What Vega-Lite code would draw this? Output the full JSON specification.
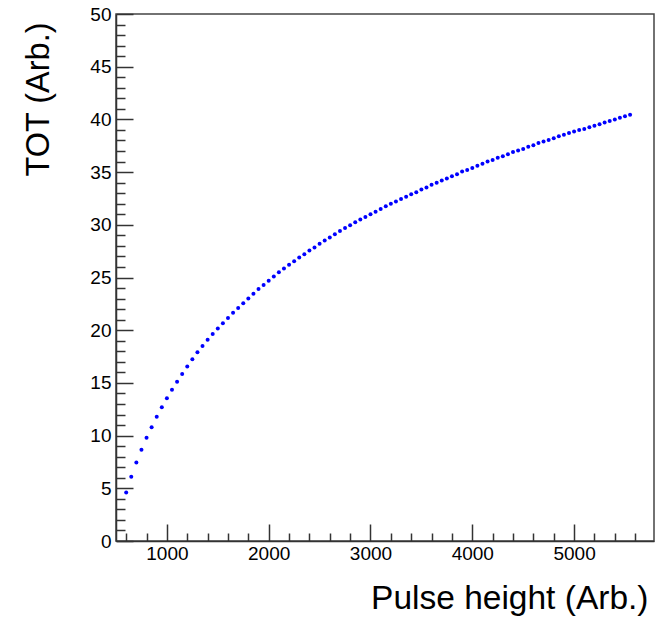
{
  "$schema": "https://vega.github.io/schema/vega-lite/v6.json",
  "width": 538,
  "height": 527,
  "autosize": {"type": "none"},
  "padding": {"left": 116, "top": 14, "right": 1, "bottom": 78},
  "background": "white",
  "config": {
    "view": {"stroke": "#444", "strokeWidth": 1.5},
    "font": "Liberation Sans"
  },
  "data": {
    "values": [
      {"ph": 600, "tot": 4.6}, {"ph": 650, "tot": 6.1}, {"ph": 700, "tot": 7.45}, {"ph": 750, "tot": 8.65},
      {"ph": 800, "tot": 9.8}, {"ph": 850, "tot": 10.8}, {"ph": 900, "tot": 11.8}, {"ph": 950, "tot": 12.7},
      {"ph": 1000, "tot": 13.55}, {"ph": 1050, "tot": 14.35}, {"ph": 1100, "tot": 15.1}, {"ph": 1150, "tot": 15.85},
      {"ph": 1200, "tot": 16.55}, {"ph": 1250, "tot": 17.25}, {"ph": 1300, "tot": 17.9}, {"ph": 1350, "tot": 18.5},
      {"ph": 1400, "tot": 19.1}, {"ph": 1450, "tot": 19.65}, {"ph": 1500, "tot": 20.15}, {"ph": 1550, "tot": 20.65},
      {"ph": 1600, "tot": 21.15}, {"ph": 1650, "tot": 21.65}, {"ph": 1700, "tot": 22.1}, {"ph": 1750, "tot": 22.55},
      {"ph": 1800, "tot": 23.0}, {"ph": 1850, "tot": 23.45}, {"ph": 1900, "tot": 23.9}, {"ph": 1950, "tot": 24.3},
      {"ph": 2000, "tot": 24.7}, {"ph": 2050, "tot": 25.1}, {"ph": 2100, "tot": 25.5}, {"ph": 2150, "tot": 25.85},
      {"ph": 2200, "tot": 26.2}, {"ph": 2250, "tot": 26.55}, {"ph": 2300, "tot": 26.9}, {"ph": 2350, "tot": 27.2},
      {"ph": 2400, "tot": 27.55}, {"ph": 2450, "tot": 27.85}, {"ph": 2500, "tot": 28.2}, {"ph": 2550, "tot": 28.5},
      {"ph": 2600, "tot": 28.8}, {"ph": 2650, "tot": 29.1}, {"ph": 2700, "tot": 29.4}, {"ph": 2750, "tot": 29.7},
      {"ph": 2800, "tot": 29.95}, {"ph": 2850, "tot": 30.25}, {"ph": 2900, "tot": 30.5}, {"ph": 2950, "tot": 30.75},
      {"ph": 3000, "tot": 31.0}, {"ph": 3050, "tot": 31.25}, {"ph": 3100, "tot": 31.5}, {"ph": 3150, "tot": 31.75},
      {"ph": 3200, "tot": 32.0}, {"ph": 3250, "tot": 32.2}, {"ph": 3300, "tot": 32.45}, {"ph": 3350, "tot": 32.65},
      {"ph": 3400, "tot": 32.9}, {"ph": 3450, "tot": 33.1}, {"ph": 3500, "tot": 33.35}, {"ph": 3550, "tot": 33.55},
      {"ph": 3600, "tot": 33.8}, {"ph": 3650, "tot": 34.0}, {"ph": 3700, "tot": 34.2}, {"ph": 3750, "tot": 34.4},
      {"ph": 3800, "tot": 34.6}, {"ph": 3850, "tot": 34.8}, {"ph": 3900, "tot": 35.05}, {"ph": 3950, "tot": 35.2},
      {"ph": 4000, "tot": 35.4}, {"ph": 4050, "tot": 35.6}, {"ph": 4100, "tot": 35.8}, {"ph": 4150, "tot": 36.0},
      {"ph": 4200, "tot": 36.15}, {"ph": 4250, "tot": 36.35}, {"ph": 4300, "tot": 36.5}, {"ph": 4350, "tot": 36.7},
      {"ph": 4400, "tot": 36.9}, {"ph": 4450, "tot": 37.05}, {"ph": 4500, "tot": 37.2}, {"ph": 4550, "tot": 37.4},
      {"ph": 4600, "tot": 37.55}, {"ph": 4650, "tot": 37.75}, {"ph": 4700, "tot": 37.9}, {"ph": 4750, "tot": 38.05},
      {"ph": 4800, "tot": 38.2}, {"ph": 4850, "tot": 38.4}, {"ph": 4900, "tot": 38.55}, {"ph": 4950, "tot": 38.7},
      {"ph": 5000, "tot": 38.85}, {"ph": 5050, "tot": 39.0}, {"ph": 5100, "tot": 39.1}, {"ph": 5150, "tot": 39.25},
      {"ph": 5200, "tot": 39.4}, {"ph": 5250, "tot": 39.55}, {"ph": 5300, "tot": 39.7}, {"ph": 5350, "tot": 39.85},
      {"ph": 5400, "tot": 40.0}, {"ph": 5450, "tot": 40.15}, {"ph": 5500, "tot": 40.3}, {"ph": 5550, "tot": 40.45}
    ]
  },
  "mark": {"type": "point", "shape": "circle", "filled": true, "color": "#0000ff", "size": 16, "opacity": 1},
  "encoding": {
    "x": {
      "field": "ph",
      "type": "quantitative",
      "scale": {"domain": [500, 5785], "nice": false, "zero": false},
      "axis": {
        "title": "Pulse height (Arb.)",
        "values": [600, 800, 1000, 1200, 1400, 1600, 1800, 2000, 2200, 2400, 2600, 2800, 3000, 3200, 3400, 3600, 3800, 4000, 4200, 4400, 4600, 4800, 5000, 5200, 5400, 5600],
        "format": "d",
        "labelExpr": "datum.value % 1000 === 0 ? datum.label : ''",
        "grid": false,
        "domainColor": "#333",
        "domainWidth": 1.5,
        "tickColor": "#333",
        "tickWidth": 1.5,
        "tickSize": {"condition": {"test": "datum.value % 1000 === 0", "value": -17}, "value": -8},
        "labelFontSize": 19,
        "labelColor": "#000",
        "labelPadding": 20,
        "labelFlush": false,
        "labelOverlap": false,
        "titleFontSize": 33.5,
        "titleFontWeight": "normal",
        "titleColor": "#000",
        "titleAlign": "right",
        "titleBaseline": "alphabetic",
        "titleX": 532,
        "titleY": 67
      }
    },
    "y": {
      "field": "tot",
      "type": "quantitative",
      "scale": {"domain": [0, 50], "nice": false},
      "axis": {
        "title": "TOT (Arb.)",
        "values": [0,1,2,3,4,5,6,7,8,9,10,11,12,13,14,15,16,17,18,19,20,21,22,23,24,25,26,27,28,29,30,31,32,33,34,35,36,37,38,39,40,41,42,43,44,45,46,47,48,49,50],
        "labelExpr": "datum.value % 5 === 0 ? datum.label : ''",
        "grid": false,
        "domainColor": "#333",
        "domainWidth": 1.5,
        "tickColor": "#333",
        "tickWidth": 1.5,
        "tickSize": {"condition": {"test": "datum.value % 5 === 0", "value": -17}, "value": -9},
        "labelFontSize": 19,
        "labelColor": "#000",
        "labelPadding": 22,
        "labelOverlap": false,
        "labelFlush": false,
        "titleFontSize": 32.5,
        "titleFontWeight": "normal",
        "titleColor": "#000",
        "titleAngle": 270,
        "titleAlign": "right",
        "titleBaseline": "alphabetic",
        "titleX": -68,
        "titleY": 8
      }
    }
  }
}
